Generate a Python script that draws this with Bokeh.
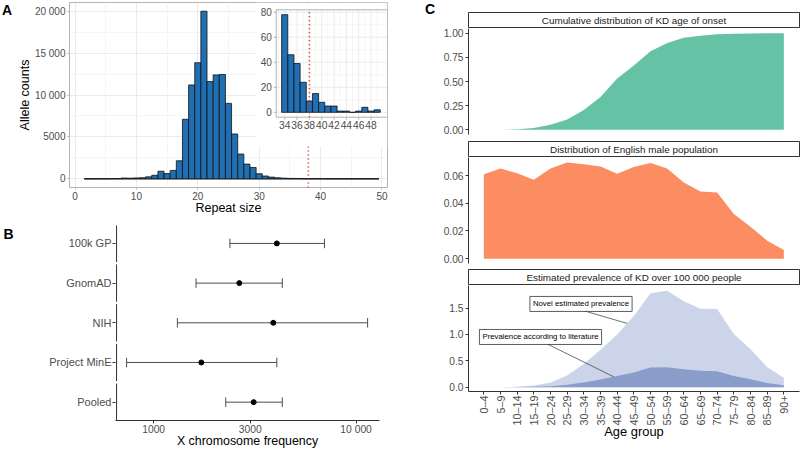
import numpy as np
from bokeh.plotting import figure
from bokeh.models import Range1d, FixedTicker, Label, NumeralTickFormatter
from bokeh.layouts import row, column
from bokeh.core.properties import value
from bokeh.embed import file_html
from bokeh.resources import INLINE

FONT = "Liberation Sans"

# ---------------- Panel A data ----------------
repeat_sizes = list(range(2, 50))
allele_counts = [2, 3, 5, 8, 15, 30, 90, 70, 100, 130, 230, 420, 900, 620, 1000, 2150,
                 7100, 11200, 13850, 20000, 11600, 12400, 12450, 9000, 5350, 2950,
                 1750, 1350, 600, 330, 200, 120, 78, 46, 39, 24, 9, 15, 8, 5, 5,
                 1, 1, 0, 1, 4, 1, 2]
threshold = 38
inset_min = 34
main_xticks = [0, 10, 20, 30, 40, 50]
main_yticks = [0, 5000, 10000, 15000, 20000]
inset_xticks = [34, 36, 38, 40, 42, 44, 46, 48]
inset_yticks = [0, 20, 40, 60, 80]

# ---------------- Panel B data ----------------
cohorts = ["100k GP", "GnomAD", "NIH", "Project MinE", "Pooled"]
freq_est = [4060, 2650, 3900, 1720, 3120]
freq_lo = [2380, 1620, 1310, 735, 2270]
freq_hi = [6980, 4320, 11400, 4060, 4320]
freq_ticks = [1000, 3000, 10000]
freq_tick_labels = ["1000", "3000", "10 000"]

# ---------------- Panel C data ----------------
age_groups = ["0–4", "5–9", "10–14", "15–19", "20–24", "25–29", "30–34", "35–39",
              "40–44", "45–49", "50–54", "55–59", "60–64", "65–69", "70–74",
              "75–79", "80–84", "85–89", "90+"]
onset_cdf = [0.0, 0.0, 0.005, 0.018, 0.05, 0.105, 0.205, 0.34, 0.53, 0.665, 0.815,
             0.9, 0.955, 0.975, 0.99, 0.996, 0.999, 1.0, 1.0]
population = [0.061, 0.065, 0.0617, 0.0569, 0.065, 0.0694, 0.0682, 0.0665, 0.0612,
              0.0662, 0.0691, 0.065, 0.055, 0.0485, 0.0478, 0.0322, 0.023, 0.013, 0.0062]
prev_novel = [0.0, 0.0, 0.01, 0.03, 0.09, 0.22, 0.44, 0.71, 1.0, 1.35, 1.785, 1.83,
              1.63, 1.49, 1.485, 1.01, 0.72, 0.38, 0.177]
prev_lit = [0.0, 0.0, 0.002, 0.006, 0.018, 0.045, 0.09, 0.145, 0.21, 0.28, 0.373, 0.38,
            0.34, 0.31, 0.30, 0.21, 0.15, 0.08, 0.035]
strip_titles = ["Cumulative distribution of KD age of onset",
                "Distribution of English male population",
                "Estimated prevalence of KD over 100 000 people"]
label_texts = ["Novel estimated prevalence", "Prevalence according to literature"]
label_x = [5.83, 3.4]
label_y = [1.58, 0.953]
leader_start_x = [5.8, 3.8]
leader_start_y = [1.47, 0.82]
leader_target_x = [8.6, 7.8]

GRAY30 = "#4d4d4d"
DOT = "1 3"


def base_fig(**kw):
    return figure(output_backend="svg", toolbar_location=None, frame_align=False,
                  background_fill_color="white", border_fill_color="white", **kw)


def style_axis(ax, tick_size="10px", label_size="12.5px"):
    ax.major_label_text_font = FONT
    ax.major_label_text_font_size = tick_size
    ax.major_label_text_color = GRAY30
    ax.axis_label_text_font = FONT
    ax.axis_label_text_font_style = "normal"
    ax.axis_label_text_font_size = label_size
    ax.axis_label_text_color = "black"
    ax.minor_tick_line_color = None
    ax.minor_tick_out = 0
    ax.minor_tick_in = 0
    ax.major_tick_in = 0


def letter_fig(txt, w, h, x, baseline):
    f = base_fig(width=w, height=h, x_range=Range1d(0, w), y_range=Range1d(h, 0),
                 min_border_left=0, min_border_right=0, min_border_top=0, min_border_bottom=0)
    f.axis.visible = False
    f.grid.visible = False
    f.outline_line_color = None
    f.text(x=[x], y=[baseline], text=[txt], text_baseline="alphabetic", text_align="left",
           text_font=value(FONT), text_font_style="bold", text_font_size="14px",
           text_color="black")
    return f


# =============== Panel A ===============
OFF_A = 14
A_W, A_H = 400 - OFF_A, 218
A_L, A_R, A_T, A_B = 67 - OFF_A, 13, 2, 31
AX0, AX1, AY0, AY1 = -0.9, 50.9, -1040, 21040
pA = base_fig(width=A_W, height=A_H, x_range=Range1d(AX0, AX1), y_range=Range1d(AY0, AY1),
              min_border_left=A_L, min_border_right=A_R, min_border_top=A_T, min_border_bottom=A_B)
pA.outline_line_color = "#b3b3b3"
pA.xaxis.ticker = FixedTicker(ticks=main_xticks, minor_ticks=[t + 5 for t in main_xticks[:-1]])
pA.yaxis.ticker = FixedTicker(ticks=main_yticks, minor_ticks=[t + 2500 for t in main_yticks[:-1]])
pA.yaxis.major_label_overrides = {t: (f"{t:,}".replace(",", " ") if t >= 10000 else str(t))
                                  for t in main_yticks}
for ax in (pA.xaxis, pA.yaxis):
    style_axis(ax)
    ax.axis_line_color = None
    ax.major_tick_line_color = "#b3b3b3"
    ax.major_tick_out = 2
    ax.major_label_standoff = 2
pA.xaxis.axis_label = "Repeat size"
pA.yaxis.axis_label = "Allele counts"
pA.xaxis.axis_label_standoff = -2
pA.yaxis.axis_label_standoff = 0
pA.grid.grid_line_color = "#ebebeb"
pA.grid.minor_grid_line_color = "#f5f5f5"

rs = np.array(repeat_sizes, dtype=float)
cnt = np.array(allele_counts, dtype=float)
BAR_FILL = "#1f6fb2"
pA.line(x=[rs[0] - 0.5, rs[-1] + 0.5], y=[0, 0], line_color="#555555", line_width=1.2)
pA.quad(left=rs - 0.5, right=rs + 0.5, bottom=0, top=cnt, fill_color=BAR_FILL,
        line_color="#111111", line_width=0.8)
pA.segment(x0=[threshold], x1=[threshold], y0=[AY0], y1=[AY1], line_color="#e41a1c",
           line_width=1.6, line_dash=DOT)

# inset (drawn with its own ranges inside the same frame)
fx0, fx1, fy0, fy1 = A_L, A_W - A_R, A_T, A_H - A_B
ins_l, ins_r, ins_t, ins_b = 275 - OFF_A, fx1, 9.3, 116.7
ix0, ix1 = 32.62, 50.67
iy0, iy1 = -3.9, 81.9
kx = (ix1 - ix0) / (ins_r - ins_l)
ky = (iy1 - iy0) / (ins_b - ins_t)
X = lambda px: ix0 + (px - ins_l) * kx
Y = lambda py: iy0 + (ins_b - py) * ky
pA.extra_x_ranges = {"ins": Range1d(X(fx0), X(fx1))}
pA.extra_y_ranges = {"ins": Range1d(Y(fy1), Y(fy0))}
IR = dict(x_range_name="ins", y_range_name="ins")

pA.quad(left=[X(254 - OFF_A)], right=[X(fx1)], bottom=[Y(146)], top=[Y(fy0)], fill_color="white",
        line_color=None, **IR)
minor_x = [t + 1 for t in inset_xticks] + [inset_xticks[0] - 1]
minor_y = [t + 10 for t in inset_yticks[:-1]]
pA.segment(x0=minor_x, x1=minor_x, y0=iy0, y1=iy1, line_color="#f5f5f5", line_width=1, **IR)
pA.segment(x0=ix0, x1=ix1, y0=minor_y, y1=minor_y, line_color="#f5f5f5", line_width=1, **IR)
pA.segment(x0=inset_xticks, x1=inset_xticks, y0=iy0, y1=iy1, line_color="#ebebeb", line_width=1, **IR)
pA.segment(x0=ix0, x1=ix1, y0=inset_yticks, y1=inset_yticks, line_color="#ebebeb", line_width=1, **IR)
sel = rs >= inset_min
pA.quad(left=rs[sel] - 0.5, right=rs[sel] + 0.5, bottom=0, top=cnt[sel], fill_color=BAR_FILL,
        line_color="#111111", line_width=0.8, **IR)
pA.segment(x0=[threshold], x1=[threshold], y0=[iy0], y1=[iy1], line_color="#e41a1c",
           line_width=1.6, line_dash=DOT, **IR)
pA.quad(left=[ix0], right=[ix1], bottom=[iy0], top=[iy1], fill_color=None,
        line_color="#b3b3b3", line_width=1, **IR)
pA.segment(x0=inset_xticks, x1=inset_xticks, y0=iy0, y1=Y(ins_b + 2.5), line_color="#b3b3b3", **IR)
pA.segment(x0=ix0, x1=X(ins_l - 2.5), y0=inset_yticks, y1=inset_yticks, line_color="#b3b3b3", **IR)
pA.text(x=inset_xticks, y=[Y(124.3)] * len(inset_xticks), text=[str(t) for t in inset_xticks],
        text_align="center", text_baseline="middle", text_font=value(FONT),
        text_font_size="10.3px", text_color=GRAY30, **IR)
pA.text(x=[X(270.7 - OFF_A)] * len(inset_yticks), y=inset_yticks, text=[str(t) for t in inset_yticks],
        text_align="right", text_baseline="middle", text_font=value(FONT),
        text_font_size="10px", text_color=GRAY30, **IR)
fA = letter_fig("A", OFF_A, A_H, 1.5, 9.8)

# =============== Panel B ===============
OFF_B = 16
B_W, B_H = 400 - OFF_B, 232
B_L, B_R, B_T, B_B = 115 - OFF_B, 21, 7, 26
bx0, bx1 = 648, 13050
pB = base_fig(width=B_W, height=B_H, x_axis_type="log", x_range=Range1d(bx0, bx1),
              y_range=Range1d(0.538, 5.452), min_border_left=B_L, min_border_right=B_R,
              min_border_top=B_T, min_border_bottom=B_B)
pB.grid.visible = False
pB.outline_line_color = None
ypos = list(range(len(cohorts), 0, -1))
pB.segment(x0=freq_lo, x1=freq_hi, y0=ypos, y1=ypos, line_color=GRAY30, line_width=1)
pB.segment(x0=freq_lo, x1=freq_lo, y0=[y - 0.12 for y in ypos], y1=[y + 0.12 for y in ypos],
           line_color=GRAY30, line_width=1)
pB.segment(x0=freq_hi, x1=freq_hi, y0=[y - 0.12 for y in ypos], y1=[y + 0.12 for y in ypos],
           line_color=GRAY30, line_width=1)
pB.scatter(x=freq_est, y=ypos, size=5, fill_color="black", line_color="black")
axx = bx0 * 1.012
pB.segment(x0=[axx] * len(ypos), x1=[axx] * len(ypos), y0=[y - 0.47 for y in ypos],
           y1=[y + 0.47 for y in ypos], line_color="#333333", line_width=1)
pB.yaxis.ticker = FixedTicker(ticks=ypos)
pB.yaxis.major_label_overrides = {y: n for y, n in zip(ypos, cohorts)}
pB.xaxis.ticker = FixedTicker(ticks=freq_ticks)
pB.xaxis.formatter = NumeralTickFormatter(format="0")
pB.xaxis.major_label_overrides = {t: s for t, s in zip(freq_ticks, freq_tick_labels)}
style_axis(pB.yaxis, tick_size="11px")
style_axis(pB.xaxis, tick_size="10.3px", label_size="12.4px")
pB.yaxis.axis_line_color = None
pB.xaxis.axis_line_color = "#333333"
for ax in (pB.xaxis, pB.yaxis):
    ax.major_tick_line_color = "#333333"
    ax.major_tick_out = 3
    ax.major_label_standoff = 1
pB.xaxis.major_label_standoff = 0
pB.xaxis.axis_label = "X chromosome frequency"
pB.xaxis.axis_label_standoff = -4
fB = letter_fig("B", OFF_B, B_H, 3.0, 15.8)

# =============== Panel C ===============
C_W, C_L, C_R = 400, 68, 1
XR = (-0.92, 18.94)
idx = list(range(len(age_groups)))
OFF_C = 40


def strip(title, height, top, width=C_W, left=C_L):
    s = base_fig(width=width, height=height, x_range=Range1d(*XR), y_range=Range1d(0, 1),
                 min_border_left=left, min_border_right=C_R, min_border_top=top, min_border_bottom=1)
    s.axis.visible = False
    s.grid.visible = False
    s.outline_line_color = "#333333"
    s.outline_line_width = 1
    s.text(x=[(XR[0] + XR[1]) / 2], y=[0.5], text=[title], text_align="center",
           text_baseline="middle", text_font=value(FONT), text_font_size="9.9px",
           text_color="#1a1a1a")
    return s


def panel(height, yr, ticks, fmt, bottom, show_x=False):
    p = base_fig(width=C_W, height=height, x_range=Range1d(*XR), y_range=Range1d(*yr),
                 min_border_left=C_L, min_border_right=C_R, min_border_top=0,
                 min_border_bottom=bottom)
    p.grid.visible = False
    p.outline_line_color = None
    p.yaxis.ticker = FixedTicker(ticks=ticks)
    p.yaxis.formatter = NumeralTickFormatter(format=fmt)
    style_axis(p.yaxis, tick_size="10.2px")
    p.yaxis.axis_line_color = "#333333"
    p.yaxis.major_tick_line_color = "#333333"
    p.yaxis.major_tick_out = 3
    p.yaxis.major_label_standoff = 2
    if show_x:
        p.xaxis.ticker = FixedTicker(ticks=idx)
        p.xaxis.major_label_overrides = {i: g for i, g in zip(idx, age_groups)}
        style_axis(p.xaxis, tick_size="10.8px", label_size="12.9px")
        p.xaxis.major_label_orientation = np.pi / 2
        p.xaxis.axis_line_color = "#333333"
        p.xaxis.major_tick_line_color = "#333333"
        p.xaxis.major_tick_out = 3
        p.xaxis.major_label_standoff = 1
        p.xaxis.axis_label = "Age group"
        p.xaxis.axis_label_standoff = -5
    else:
        p.xaxis.visible = False
    return p


s1 = strip(strip_titles[0], 28, 12, width=C_W - OFF_C, left=C_L - OFF_C)
fC = letter_fig("C", OFF_C, 28, 24.5, 8.8)
p1 = panel(111, (-0.05, 1.05), [0, 0.25, 0.5, 0.75, 1.0], "0.00", 5)
p1.varea(x=idx, y1=[0] * len(idx), y2=onset_cdf, fill_color="#66c2a5")

s2 = strip(strip_titles[1], 18, 2)
p2 = panel(110, (-0.0035, 0.073), [0, 0.02, 0.04, 0.06], "0.00", 4)
p2.varea(x=idx, y1=[0] * len(idx), y2=population, fill_color="#fc8d62")

s3 = strip(strip_titles[2], 18, 2)
p3 = panel(165, (-0.082, 1.93), [0, 0.5, 1.0, 1.5], "0.0", 59, show_x=True)
p3.varea(x=idx, y1=[0] * len(idx), y2=prev_novel, fill_color="#cbd4e9")
p3.varea(x=idx, y1=[0] * len(idx), y2=prev_lit, fill_color="#8a9dca")
series_for_label = [prev_novel, prev_lit]
tx = leader_target_x
ty = [float(np.interp(t, idx, s)) for t, s in zip(tx, series_for_label)]
p3.segment(x0=leader_start_x, y0=leader_start_y, x1=tx, y1=ty, line_color="#333333", line_width=0.7)
for t, x, y in zip(label_texts, label_x, label_y):
    p3.add_layout(Label(x=x, y=y, text=t, text_align="center", text_baseline="middle",
                        text_font=FONT, text_font_size="7.8px", text_color="black",
                        background_fill_color="white", border_line_color="#333333",
                        border_line_width=0.8, padding=3))

left_col = column(row(fA, pA), row(fB, pB))
right_col = column(row(fC, s1), p1, s2, p2, s3, p3)
layout = row(left_col, right_col)
open("out.html", "w").write(file_html(layout, INLINE, "KD figure"))
